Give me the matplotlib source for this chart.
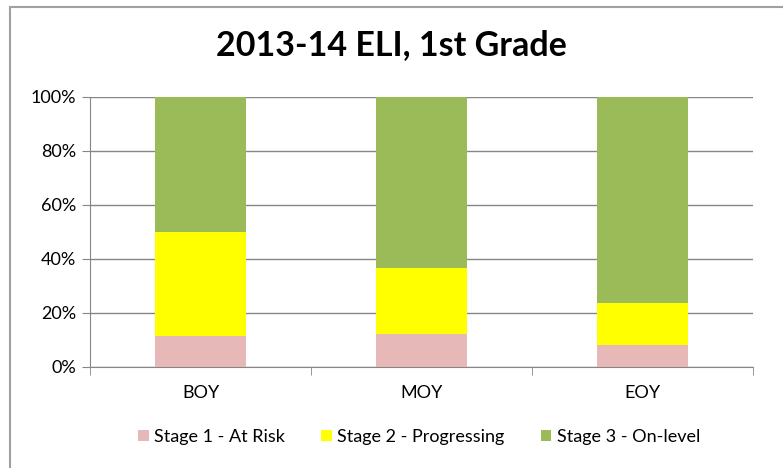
"""2013-14 ELI, 1st Grade stacked percent bars."""

import matplotlib.pyplot as plt
import numpy as np
from matplotlib.patches import Rectangle
from matplotlib.ticker import FixedLocator, PercentFormatter

plt.rcParams["font.family"] = ["Lato", "DejaVu Sans"]

CATEGORIES = ["BOY", "MOY", "EOY"]
STAGE_1 = [11.3, 12.1, 8.2]
STAGE_2 = [38.7, 24.5, 15.3]
STAGE_3 = [50.0, 63.4, 76.5]
SERIES = [
    ("Stage 1 - At Risk", STAGE_1, "#e6b8b7"),
    ("Stage 2 - Progressing", STAGE_2, "#ffff00"),
    ("Stage 3 - On-level", STAGE_3, "#9bbb59"),
]

fig = plt.figure(figsize=(7.83, 4.68), dpi=100)
# chart frame, right/bottom edges run off the image
fig.patches.append(Rectangle((0.0125, -0.05), 1.1, 1.035, transform=fig.transFigure,
                             fill=False, edgecolor="#a0a0a0", linewidth=1.5))
ax = fig.add_axes([0.115, 0.216, 0.847, 0.577])

x = np.arange(len(CATEGORIES))
bottom = np.zeros(len(CATEGORIES))
for label, vals, color in SERIES:
    ax.bar(x, vals, 0.41, bottom=bottom, color=color, label=label, zorder=2)
    bottom += np.array(vals)

ax.set_xlim(-0.5, 2.5)
ax.set_ylim(0, 100)
ax.set_yticks(np.arange(0, 101, 20))
ax.yaxis.set_major_formatter(PercentFormatter(decimals=0))
ax.yaxis.grid(True, color="#868686", linewidth=1, zorder=0)
ax.set_xticks(x)
ax.set_xticklabels(CATEGORIES)
ax.xaxis.set_minor_locator(FixedLocator([-0.5, 0.5, 1.5, 2.5]))
ax.tick_params(axis="x", which="major", length=0, pad=13, labelsize=13)
ax.tick_params(axis="x", which="minor", length=6, color="#868686")
ax.tick_params(axis="y", length=6, color="#868686", labelsize=13, pad=4)

for side in ("top", "right"):
    ax.spines[side].set_visible(False)
for side in ("left", "bottom"):
    ax.spines[side].set_color("#868686")

fig.text(0.5, 0.904, "2013-14 ELI, 1st Grade", ha="center", va="center",
         fontsize=24.5, fontweight="bold")
fig.legend(loc="center", bbox_to_anchor=(0.535, 0.066), ncol=3, frameon=False,
           fontsize=13, handlelength=0.6, handleheight=0.6, columnspacing=2.0,
           handletextpad=0.3)

plt.savefig("out.png", dpi=100)
plt.close()
